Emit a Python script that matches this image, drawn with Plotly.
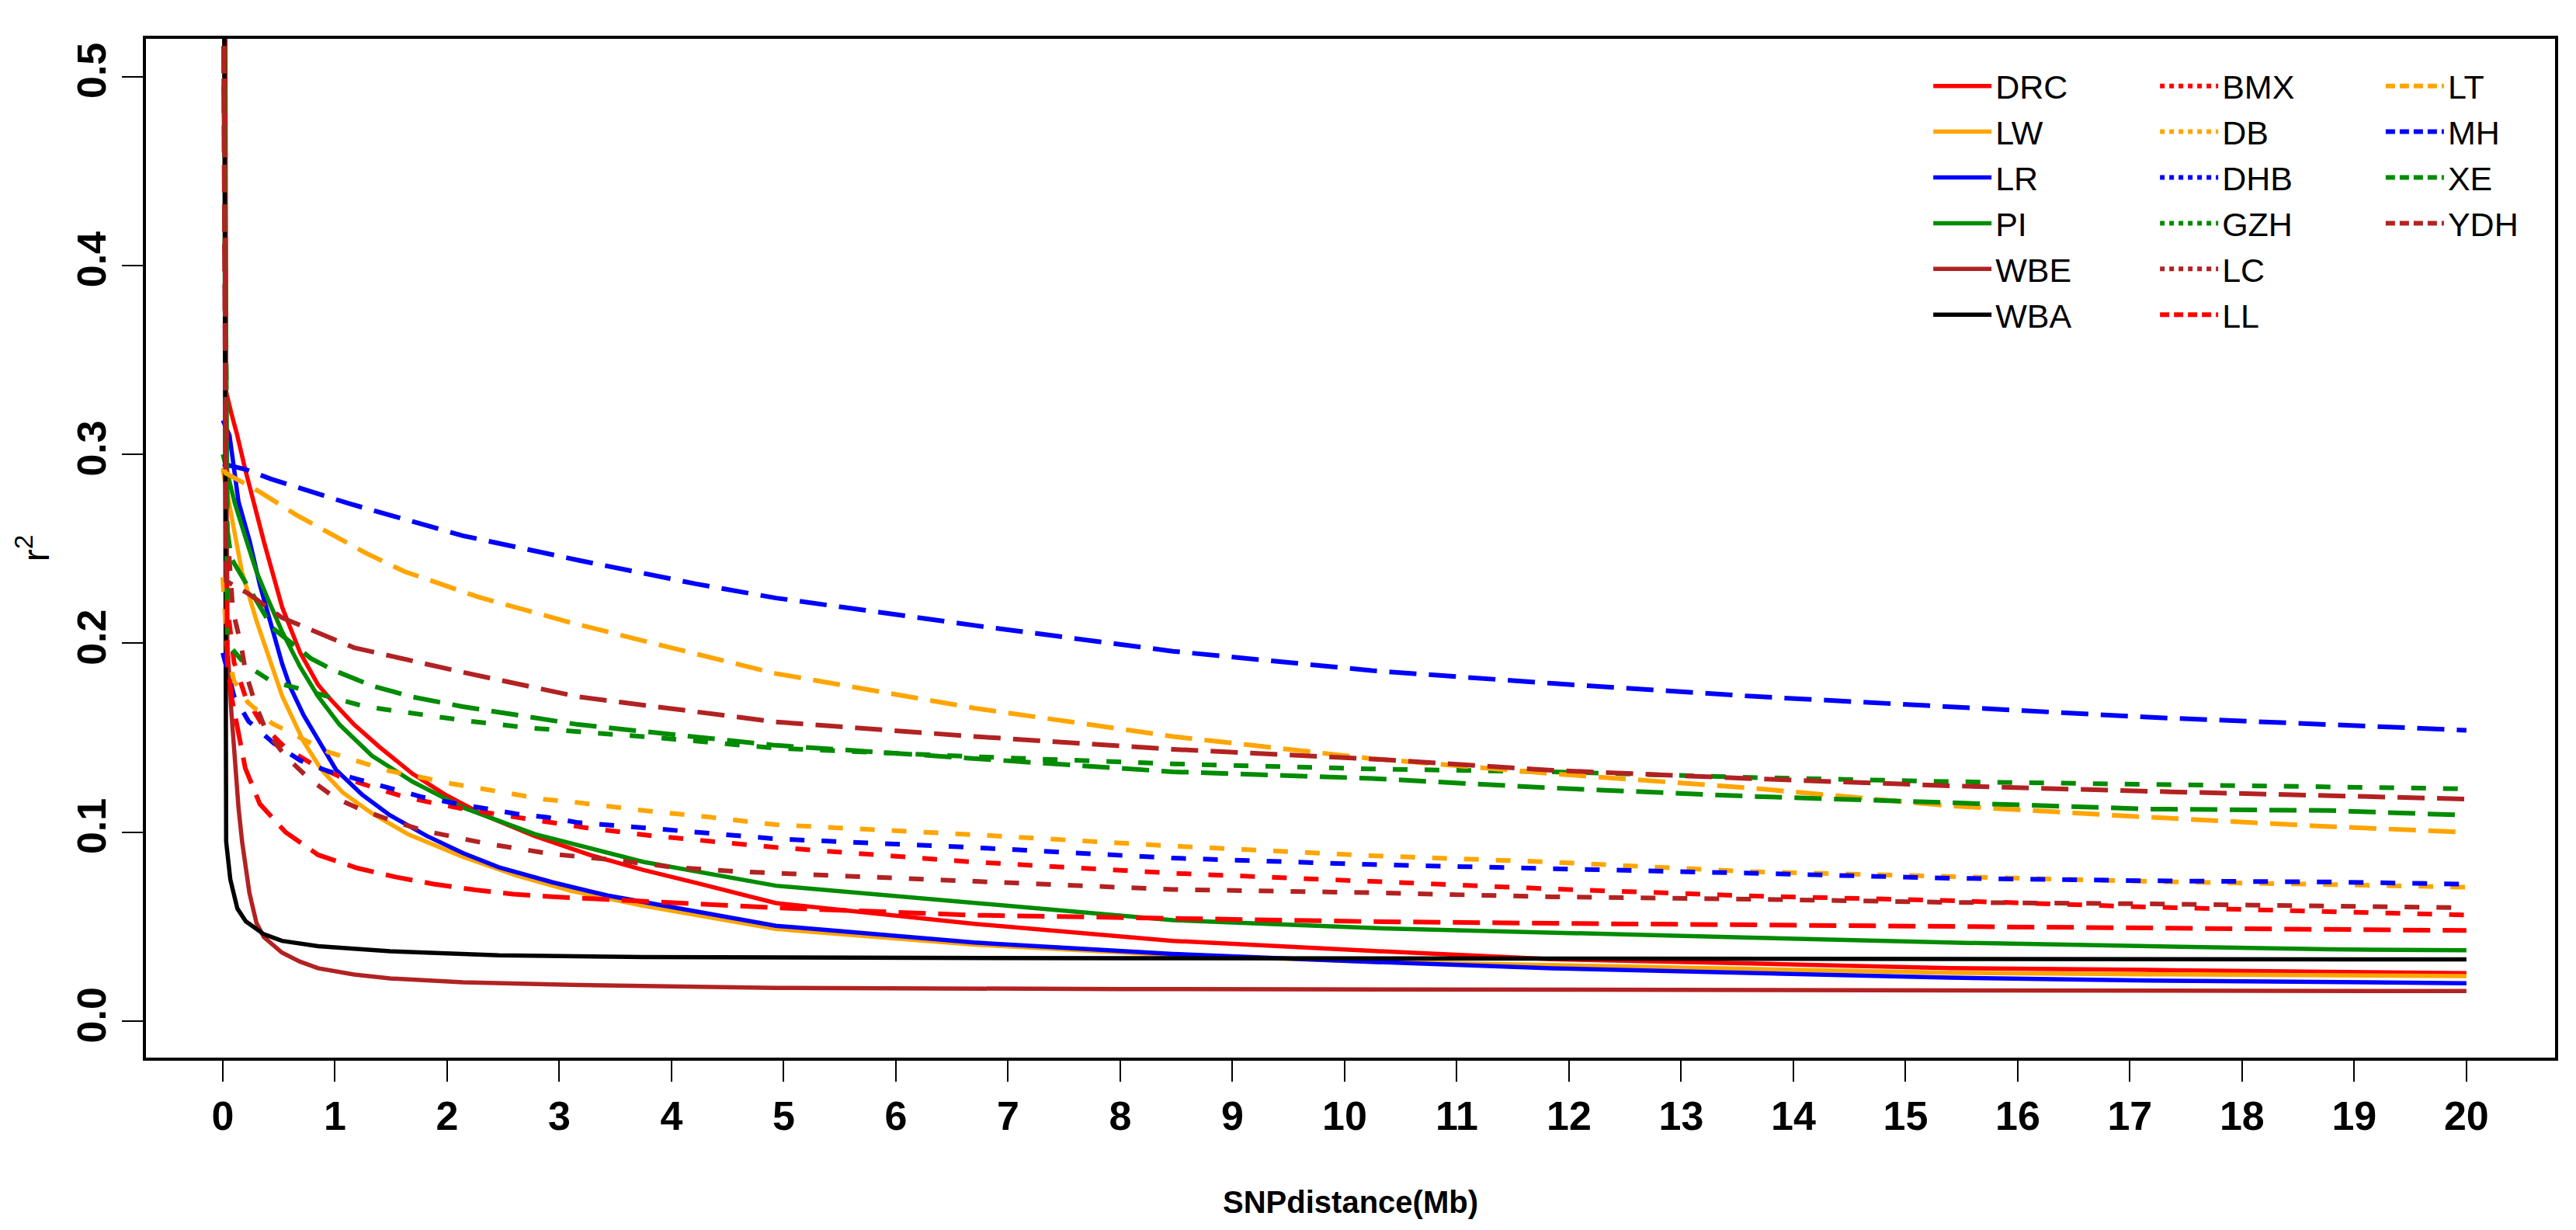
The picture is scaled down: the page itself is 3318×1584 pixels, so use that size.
import plotly.graph_objects as go

# ---------------- data ----------------
DRC_x = [0.02, 0.03, 0.075, 0.125, 0.2, 0.3, 0.37, 0.53, 0.69, 0.85, 0.95, 1.17, 1.4, 1.69, 1.98, 2.33, 2.78, 3.27, 3.75, 4.23, 4.93, 6.7, 8.47, 10.24, 11.85, 13.62, 15.39, 17.16, 18.78, 20]
DRC_y = [0.6, 0.333, 0.322, 0.311, 0.292, 0.268, 0.253, 0.219, 0.195, 0.178, 0.171, 0.157, 0.145, 0.131, 0.120, 0.109, 0.098, 0.088, 0.080, 0.073, 0.0625, 0.0515, 0.0425, 0.0372, 0.0328, 0.0305, 0.0281, 0.0271, 0.0263, 0.0254]

LW_x = [0, 0.075, 0.17, 0.3, 0.43, 0.53, 0.72, 0.88, 1.07, 1.33, 1.65, 2.14, 2.62, 3.1, 3.75, 4.93, 6.7, 8.47, 10.24, 11.85, 13.62, 15.39, 17.16, 18.78, 20]
LW_y = [0.292, 0.267, 0.238, 0.212, 0.190, 0.172, 0.148, 0.133, 0.121, 0.110, 0.099, 0.0870, 0.0770, 0.0690, 0.0610, 0.0488, 0.0405, 0.0350, 0.0315, 0.0297, 0.0280, 0.0256, 0.0248, 0.0240, 0.0239]

LR_x = [0, 0.06, 0.14, 0.24, 0.33, 0.43, 0.53, 0.6, 0.72, 0.88, 1.01, 1.24, 1.49, 1.82, 2.14, 2.46, 2.94, 3.43, 4.07, 4.93, 6.7, 8.47, 10.24, 11.85, 13.62, 15.39, 17.16, 18.78, 20]
LR_y = [0.318, 0.310, 0.275, 0.254, 0.231, 0.209, 0.189, 0.177, 0.162, 0.146, 0.133, 0.120, 0.109, 0.098, 0.089, 0.0815, 0.0735, 0.0665, 0.0595, 0.0505, 0.0416, 0.0356, 0.0314, 0.0280, 0.0255, 0.0230, 0.0215, 0.0205, 0.0201]

PI_x = [0, 0.108, 0.205, 0.3, 0.4, 0.527, 0.688, 0.849, 1.04, 1.33, 1.69, 2.14, 2.78, 3.75, 4.93, 6.7, 8.47, 10.24, 11.85, 13.62, 15.39, 17.16, 18.78, 20]
PI_y = [0.300, 0.274, 0.2555, 0.238, 0.2237, 0.2064, 0.1877, 0.172, 0.157, 0.1405, 0.1268, 0.1131, 0.099, 0.0843, 0.0717, 0.0624, 0.0535, 0.0493, 0.0467, 0.0442, 0.0416, 0.0395, 0.0380, 0.0375]

WBE_x = [0.01, 0.04, 0.076, 0.108, 0.14, 0.172, 0.237, 0.30, 0.366, 0.527, 0.688, 0.849, 1.17, 1.49, 2.14, 3.1, 4.93, 8, 12, 16, 20]
WBE_y = [0.6, 0.200, 0.164, 0.136, 0.113, 0.095, 0.068, 0.052, 0.0445, 0.0363, 0.0315, 0.0280, 0.0247, 0.0226, 0.0206, 0.0192, 0.0176, 0.0170, 0.0167, 0.0163, 0.0159]

WBA_x = [0.01, 0.03, 0.067, 0.13, 0.205, 0.366, 0.527, 0.849, 1.49, 2.46, 3.75, 4.93, 8, 12, 16, 20]
WBA_y = [0.6, 0.095, 0.075, 0.0596, 0.0528, 0.046, 0.0425, 0.0397, 0.037, 0.0349, 0.0339, 0.0336, 0.0333, 0.0331, 0.0329, 0.0327]

BMX_x = [0, 0.04, 0.1, 0.2, 0.35, 0.56, 0.79, 1.04, 1.33, 1.59, 1.85, 2.14, 2.72, 3.27, 3.85, 4.43, 4.93, 6.7, 8.47, 10.24, 11.85, 13.62, 15.39, 17.16, 18.78, 20]
BMX_y = [0.6, 0.22, 0.19, 0.172, 0.157, 0.1446, 0.1364, 0.1295, 0.124, 0.1192, 0.1158, 0.1124, 0.107, 0.1021, 0.098, 0.0946, 0.092, 0.0842, 0.0783, 0.074, 0.0700, 0.0663, 0.0638, 0.0604, 0.0583, 0.0562]

DB_x = [0, 0.04, 0.1, 0.22, 0.44, 0.69, 0.94, 1.21, 1.48, 1.75, 2.04, 2.31, 2.59, 2.86, 3.15, 3.72, 4.29, 4.93, 6.7, 8.47, 10.24, 11.85, 13.62, 15.39, 17.16, 18.78, 20]
DB_y = [0.235, 0.195, 0.180, 0.169, 0.1576, 0.1498, 0.1425, 0.1375, 0.1325, 0.1293, 0.1257, 0.123, 0.120, 0.1175, 0.1158, 0.1117, 0.1083, 0.1040, 0.0987, 0.0927, 0.0876, 0.0842, 0.0791, 0.0765, 0.0740, 0.0723, 0.0709]

DHB_x = [0, 0.1, 0.23, 0.45, 0.69, 0.94, 1.21, 1.49, 1.78, 2.05, 2.33, 2.62, 2.89, 3.17, 3.75, 4.3, 4.93, 6.7, 8.47, 10.24, 11.85, 13.62, 15.39, 17.16, 18.78, 20]
DHB_y = [0.195, 0.172, 0.1587, 0.1473, 0.138, 0.1323, 0.1279, 0.1234, 0.1186, 0.1155, 0.1124, 0.1097, 0.1079, 0.1051, 0.1024, 0.0996, 0.0965, 0.0919, 0.0863, 0.0829, 0.0810, 0.0783, 0.0757, 0.0743, 0.0737, 0.0725]

GZH_x = [0, 0.04, 0.205, 0.43, 1.27, 2.17, 2.72, 3.88, 4.93, 6.7, 8.47, 10.24, 11.85, 13.62, 15.39, 17.16, 18.78, 20]
GZH_y = [0.6, 0.20, 0.1885, 0.180, 0.1665, 0.159, 0.1553, 0.150, 0.1445, 0.1400, 0.1362, 0.1335, 0.1320, 0.1290, 0.1268, 0.1255, 0.1243, 0.1230]

LC_x = [0, 0.04, 0.09, 0.16, 0.205, 0.286, 0.39, 0.566, 0.777, 1.01, 1.26, 1.54, 1.8, 2.08, 2.36, 2.66, 2.94, 3.48, 4.04, 4.62, 4.93, 6.7, 8.47, 10.24, 11.85, 13.62, 15.39, 17.16, 18.78, 20]
LC_y = [0.6, 0.26, 0.217, 0.2, 0.1844, 0.1686, 0.1531, 0.1398, 0.1279, 0.1179, 0.1114, 0.1055, 0.1007, 0.0973, 0.0939, 0.0911, 0.0884, 0.0854, 0.0813, 0.0791, 0.0783, 0.0740, 0.0697, 0.0680, 0.0658, 0.0646, 0.0629, 0.0621, 0.0612, 0.0600]

LL_x = [0, 0.04, 0.08, 0.2, 0.33, 0.56, 0.85, 1.2, 1.54, 1.88, 2.25, 2.59, 2.96, 4.93, 6.7, 8.47, 10.24, 11.85, 13.62, 15.39, 17.16, 18.78, 20]
LL_y = [0.6, 0.19, 0.171, 0.134, 0.115, 0.100, 0.088, 0.081, 0.0763, 0.0726, 0.0695, 0.0672, 0.0658, 0.0600, 0.0561, 0.0544, 0.0527, 0.0518, 0.0510, 0.0498, 0.0488, 0.0484, 0.0480]

LT_x = [0, 0.03, 0.334, 0.655, 1.284, 1.62, 2.28, 3.10, 3.94, 4.93, 6.70, 8.47, 10.24, 11.85, 13.62, 15.39, 17.16, 18.78, 20]
LT_y = [0.293, 0.290, 0.280, 0.268, 0.2475, 0.238, 0.2245, 0.211, 0.1985, 0.184, 0.1657, 0.1507, 0.139, 0.131, 0.1234, 0.114, 0.108, 0.103, 0.100]

MH_x = [0, 0.205, 0.43, 1.124, 2.138, 3.17, 4.216, 4.93, 6.70, 8.47, 10.24, 11.85, 13.62, 15.39, 17.16, 18.78, 20]
MH_y = [0.295, 0.292, 0.287, 0.274, 0.257, 0.2440, 0.2315, 0.224, 0.2095, 0.1958, 0.1856, 0.1788, 0.172, 0.1664, 0.1609, 0.157, 0.154]

XE_x = [0, 0.04, 0.075, 0.446, 0.785, 0.978, 1.332, 1.686, 2.138, 3.17, 4.93, 6.70, 8.47, 10.24, 11.85, 13.62, 15.39, 17.16, 18.78, 20]
XE_y = [0.6, 0.26, 0.245, 0.208, 0.192, 0.186, 0.1775, 0.1717, 0.1665, 0.157, 0.146, 0.139, 0.132, 0.1285, 0.1234, 0.119, 0.1157, 0.1123, 0.1115, 0.109]

YDH_x = [0, 0.03, 0.236, 0.527, 1.17, 2.138, 3.17, 4.93, 6.70, 8.47, 10.24, 11.85, 13.62, 15.39, 17.16, 18.78, 20]
YDH_y = [0.6, 0.233, 0.226, 0.2136, 0.1977, 0.1847, 0.1717, 0.1584, 0.1507, 0.1439, 0.1388, 0.1328, 0.1284, 0.1246, 0.1217, 0.1192, 0.1176]

names = ["DRC", "LW", "LR", "PI", "WBE", "WBA",
         "BMX", "DB", "DHB", "GZH", "LC", "LL",
         "LT", "MH", "XE", "YDH"]
colors = ["#FF0000", "#FFA500", "#0000FF", "#008B00", "#B22222", "#000000",
          "#FF0000", "#FFA500", "#0000FF", "#008B00", "#B22222", "#FF0000",
          "#FFA500", "#0000FF", "#008B00", "#B22222"]
styles = ["solid"] * 6 + ["dotted"] * 5 + ["dashed"] * 5
legend_cols = ["legend"] * 6 + ["legend2"] * 6 + ["legend3"] * 4

x_ticks = list(range(0, 21))
x_ticktext = [str(v) for v in x_ticks]
y_ticks = [0.0, 0.1, 0.2, 0.3, 0.4, 0.5]
y_ticktext = ["0.0", "0.1", "0.2", "0.3", "0.4", "0.5"]

series_x = [DRC_x, LW_x, LR_x, PI_x, WBE_x, WBA_x, BMX_x, DB_x, DHB_x, GZH_x, LC_x, LL_x, LT_x, MH_x, XE_x, YDH_x]
series_y = [DRC_y, LW_y, LR_y, PI_y, WBE_y, WBA_y, BMX_y, DB_y, DHB_y, GZH_y, LC_y, LL_y, LT_y, MH_y, XE_y, YDH_y]

# ---------------- styling ----------------
plot_dash = {"solid": "solid", "dotted": "19px,22px", "dashed": "35px,16px"}
legend_dash = {"solid": "solid", "dotted": "6px,6px", "dashed": "12px,6px"}
plot_width = {"solid": 5.5, "dotted": 6, "dashed": 6}
FONT = "Liberation Sans, Arial, sans-serif"

fig = go.Figure()
for nm, xs, ys, c, st in zip(names, series_x, series_y, colors, styles):
    fig.add_trace(go.Scatter(x=xs, y=ys, mode="lines", name=nm, showlegend=False,
                             hoverinfo="skip",
                             line=dict(color=c, width=plot_width[st], dash=plot_dash[st])))
for nm, c, st, lg in zip(names, colors, styles, legend_cols):
    fig.add_trace(go.Scatter(x=[None], y=[None], mode="lines", name=nm, legend=lg,
                             line=dict(color=c, width=plot_width[st], dash=legend_dash[st])))

axis_common = dict(showgrid=False, zeroline=False, showline=True, linewidth=3.5,
                   linecolor="black", mirror=True, ticks="outside", ticklen=27,
                   tickwidth=2, tickcolor="black", automargin=False)

fig.update_layout(
    width=3318, height=1584,
    margin=dict(l=188, r=27, t=50, b=222),
    paper_bgcolor="white", plot_bgcolor="white",
    font=dict(family=FONT, color="black"),
    xaxis=dict(range=[-0.685, 20.79], tickvals=x_ticks, ticktext=x_ticktext,
               tickfont=dict(size=52, weight="bold", family=FONT),
               title=dict(text="SNPdistance(Mb)", standoff=70,
                          font=dict(size=40, weight="bold", family=FONT)),
               **axis_common),
    yaxis=dict(range=[-0.0193, 0.520], tickvals=y_ticks, ticktext=y_ticktext,
               tickangle=-90, tickfont=dict(size=52, weight="bold", family=FONT),
               title=dict(text="r<sup>2</sup>", standoff=12,
                          font=dict(size=48, family=FONT)),
               **axis_common),
)
leg_common = dict(xanchor="left", yanchor="top", y=0.980, bgcolor="rgba(0,0,0,0)",
                  font=dict(size=43, family=FONT), itemwidth=75, tracegroupgap=0,
                  itemclick=False, itemdoubleclick=False)
fig.update_layout(legend=dict(x=0.7403, **leg_common),
                  legend2=dict(x=0.8344, **leg_common),
                  legend3=dict(x=0.9281, **leg_common))

fig.write_html("out.html", config={"displayModeBar": False},
               post_script="document.body.style.margin='0px';")
